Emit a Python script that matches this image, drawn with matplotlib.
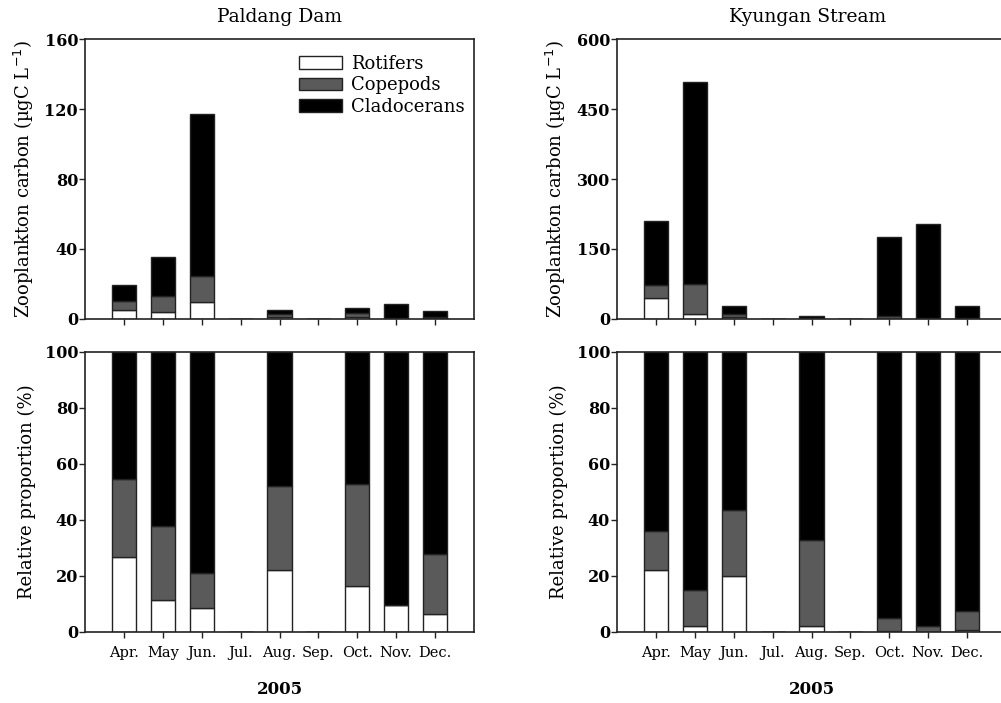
import numpy as np
import matplotlib
matplotlib.use("Agg")
import matplotlib.pyplot as plt
from matplotlib import rc

rc("font", family="DejaVu Serif")

months = ["Apr.", "May", "Jun.", "Jul.", "Aug.", "Sep.", "Oct.", "Nov.", "Dec."]
groups = ["Rotifers", "Copepods", "Cladocerans"]
colors = ["white", "#5a5a5a", "black"]

# carbon (ugC/L), cumulative tops -> split into parts
paldang_rot = [5.1, 4.0, 9.9, 0, 1.1, 0, 1.0, 0.8, 0.3]
paldang_cop = [5.2, 9.1, 14.7, 0, 1.5, 0, 2.3, 0.0, 1.0]
paldang_cla = [9.1, 22.5, 92.5, 0, 2.5, 0, 3.0, 7.6, 3.5]

kyungan_rot = [45.7, 10.7, 5.0, 0, 0.1, 0, 0.3, 0.0, 0.2]
kyungan_cop = [27.9, 64.3, 5.7, 0, 1.8, 0, 6.7, 2.0, 2.0]
kyungan_cla = [135.4, 432.0, 17.2, 0, 3.8, 0, 169.0, 201.6, 26.4]

# relative proportion (%)
paldang_rot_pct = [26.9, 11.6, 8.7, 0, 22.0, 0, 16.6, 9.7, 6.4]
paldang_cop_pct = [27.9, 26.3, 12.4, 0, 30.0, 0, 36.4, 0.0, 21.6]
paldang_cla_pct = [45.2, 62.1, 78.9, 0, 48.0, 0, 47.0, 90.3, 72.0]

kyungan_rot_pct = [22.2, 2.3, 19.9, 0, 2.1, 0, 0.2, 0.0, 0.6]
kyungan_cop_pct = [13.8, 12.8, 23.5, 0, 30.9, 0, 4.9, 2.1, 7.0]
kyungan_cla_pct = [64.0, 84.9, 56.6, 0, 67.0, 0, 94.9, 97.9, 92.4]

W, H = 1001, 703
fig = plt.figure(figsize=(W / 100, H / 100), dpi=100)


def axes_px(x0, y0, w, h):
    return fig.add_axes([x0 / W, 1 - (y0 + h) / H, w / W, h / H])


def stacked(ax, parts, ymax, yticks):
    x = np.arange(len(months))
    bottom = np.zeros(len(months))
    for vals, c, lab in zip(parts, colors, groups):
        vals = np.array(vals, dtype=float)
        ax.bar(x, vals, width=0.62, bottom=bottom, color=c,
               edgecolor="#222222", linewidth=1.0, label=lab)
        bottom += vals
    ax.set_xlim(-1, 9)
    ax.set_ylim(0, ymax)
    ax.set_yticks(yticks)
    ax.set_xticks(x)
    for s in ax.spines.values():
        s.set_linewidth(1.2)
        s.set_color("#222222")
    ax.tick_params(axis="both", direction="out", length=4, width=1.0,
                   color="#222222")
    ax.tick_params(axis="y", labelsize=11.5, pad=1)
    ax.tick_params(axis="x", labelsize=10.5, pad=6)
    for t in ax.get_yticklabels():
        t.set_fontweight("bold")


ax1 = axes_px(85, 39, 389, 280)
stacked(ax1, [paldang_rot, paldang_cop, paldang_cla], 160, [0, 40, 80, 120, 160])
ax1.set_xticklabels([])
ax1.set_ylabel("Zooplankton carbon (\u00b5gC L$^{-1}$)", fontsize=13, labelpad=6)
ax1.set_title("Paldang Dam", fontsize=13.5, pad=12)
ax1.legend(loc="upper right", frameon=False, fontsize=13, handlelength=2.4,
           handleheight=0.7, labelspacing=0.2, handletextpad=0.5,
           borderaxespad=0.0, bbox_to_anchor=(0.995, 0.97))

ax2 = axes_px(617, 39, 389, 280)
stacked(ax2, [kyungan_rot, kyungan_cop, kyungan_cla], 600, [0, 150, 300, 450, 600])
ax2.set_xticklabels([])
ax2.set_ylabel("Zooplankton carbon (\u00b5gC L$^{-1}$)", fontsize=13, labelpad=6)
ax2.set_title("Kyungan Stream", fontsize=13.5, pad=12, x=0.49)

ax3 = axes_px(85, 352, 389, 280)
stacked(ax3, [paldang_rot_pct, paldang_cop_pct, paldang_cla_pct], 100, [0, 20, 40, 60, 80, 100])
ax3.set_xticklabels(months)
ax3.set_ylabel("Relative proportion (%)", fontsize=13, labelpad=6)
ax3.set_xlabel("2005", fontsize=12, fontweight="bold", labelpad=15)

ax4 = axes_px(617, 352, 389, 280)
stacked(ax4, [kyungan_rot_pct, kyungan_cop_pct, kyungan_cla_pct], 100, [0, 20, 40, 60, 80, 100])
ax4.set_xticklabels(months)
ax4.set_ylabel("Relative proportion (%)", fontsize=13, labelpad=6)
ax4.set_xlabel("2005", fontsize=12, fontweight="bold", labelpad=15)

fig.savefig("out.png", dpi=100)
